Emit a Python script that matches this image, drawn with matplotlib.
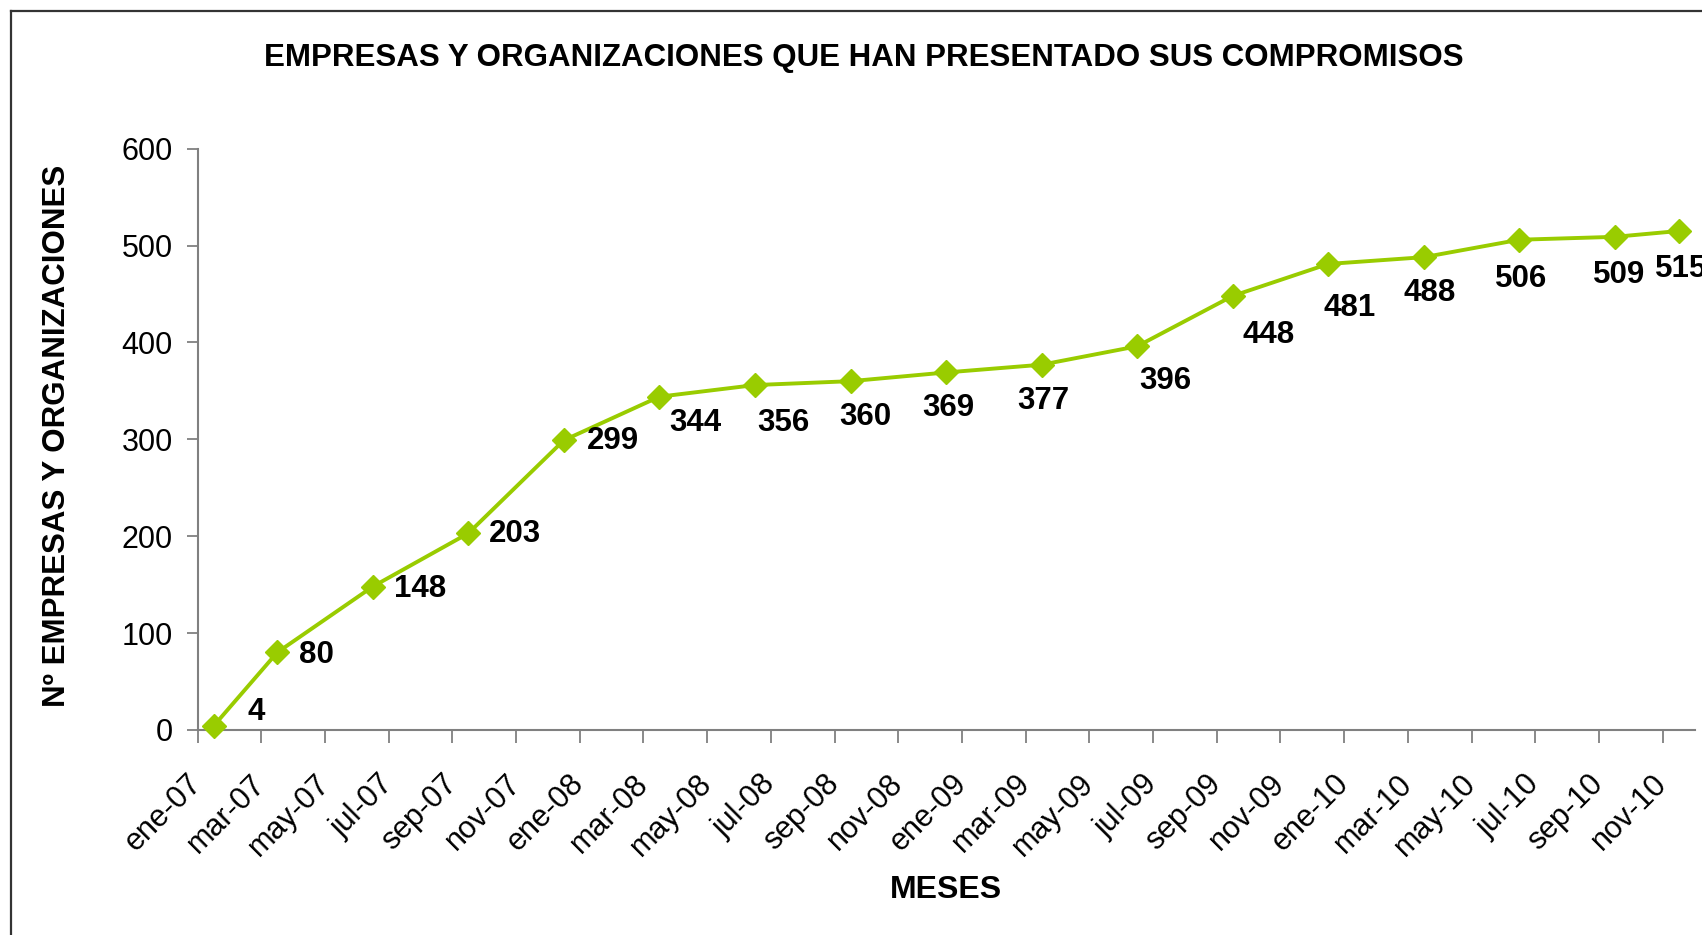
import matplotlib
matplotlib.use("Agg")
import matplotlib.pyplot as plt
from matplotlib.lines import Line2D

plt.rcParams["font.family"] = ["Liberation Sans", "DejaVu Sans"]

# ── Data ──────────────────────────────────────────────────────────────────────
dates = ["2007-01", "2007-03", "2007-06", "2007-09", "2007-12",
         "2008-03", "2008-06", "2008-09", "2008-12",
         "2009-03", "2009-06", "2009-09", "2009-12",
         "2010-03", "2010-06", "2010-09", "2010-11"]
values = [4, 80, 148, 203, 299, 344, 356, 360, 369,
          377, 396, 448, 481, 488, 506, 509, 515]

month_names = ["ene", "mar", "may", "jul", "sep", "nov"]
years = ["07", "08", "09", "10"]
tick_labels = [f"{m}-{y}" for y in years for m in month_names]

# label offsets (px in reference, right / down)
label_off = [(39, -13), (36, 2), (44, 2), (43, 1), (45, 1), (33, 24), (26, 35),
             (14, 33), (2, 33), (2, 33), (26, 32), (33, 36), (20, 41),
             (5, 33), (2, 36), (4, 35), (2, 35)]

# month index since ene-07, centred in the month slot (Excel date axis)
def month_pos(d):
    y, m = d.split("-")
    return (int(y) - 2007) * 12 + int(m) - 1 + 0.5

xs = [month_pos(d) for d in dates]

GREEN = "#99CC00"

fig = plt.figure(figsize=(17.02, 9.35), dpi=100)
fig.patch.set_facecolor("white")
ax = fig.add_axes([0.1161, 0.2193, 0.9956 - 0.1161, 0.841 - 0.2193])

ax.plot(xs, values, color=GREEN, lw=2.8, marker="D", ms=12,
        markerfacecolor=GREEN, markeredgecolor=GREEN, zorder=3, clip_on=False)

k = 1.0855 * 0.72
for x, v, (dx, dy) in zip(xs, values, label_off):
    ax.annotate(str(v), (x, v), xytext=(dx * k, -dy * k),
                textcoords="offset points", ha="center", va="center",
                fontsize=22.5, fontweight="bold", color="black",
                annotation_clip=False, zorder=4)

ax.set_xlim(0, 47)
ax.set_ylim(0, 600)
ax.set_yticks(range(0, 601, 100))
ax.set_xticks(range(0, 47, 2))
ax.set_xticklabels(tick_labels, rotation=45, ha="right", va="center",
                   rotation_mode="anchor")

for s in ("top", "right"):
    ax.spines[s].set_visible(False)
for s in ("left", "bottom"):
    ax.spines[s].set_color("#808080")
    ax.spines[s].set_linewidth(1.5)

ax.tick_params(axis="y", direction="out", length=8, width=1.3,
               color="#808080", labelsize=22, pad=10)
ax.tick_params(axis="x", direction="out", length=9, width=1.3,
               color="#808080", labelsize=22, pad=26.5)

fig.text(0.5077, 0.9385,
         "EMPRESAS Y ORGANIZACIONES QUE HAN PRESENTADO SUS COMPROMISOS",
         ha="center", va="center", fontsize=22.5, fontweight="bold")
fig.text(0.556, 0.048, "MESES", ha="center", va="center",
         fontsize=23, fontweight="bold")
fig.text(0.0332, 0.5336, "Nº EMPRESAS Y ORGANIZACIONES", ha="center",
         va="center", rotation=90, fontsize=22.5, fontweight="bold")

# chart area border (cropped at right and bottom)
bx = 11 / 1702
by = 1 - 11 / 935
fig.add_artist(Line2D([bx, 1.0], [by, by], color="#333333", lw=1.6,
                      transform=fig.transFigure))
fig.add_artist(Line2D([bx, bx], [0.0, by], color="#333333", lw=1.6,
                      transform=fig.transFigure))

fig.savefig("out.png", dpi=100, facecolor="white")
